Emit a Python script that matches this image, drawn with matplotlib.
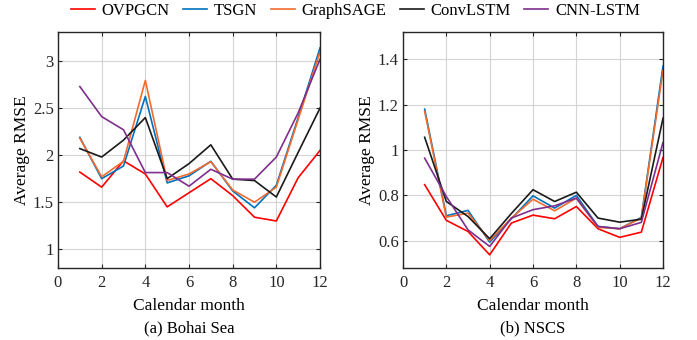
import numpy as np
import matplotlib.pyplot as plt

plt.rcParams['font.family'] = ['Liberation Serif', 'DejaVu Serif']

months = np.arange(1, 13)
names = ['OVPGCN', 'TSGN', 'GraphSAGE', 'ConvLSTM', 'CNN-LSTM']
colors = ['#FF0000', '#0072BD', '#F26B2E', '#1A1A1A', '#7E2F8E']

# (a) Bohai Sea
bohai_ovpgcn = [1.82, 1.66, 1.94, 1.80, 1.45, 1.60, 1.75, 1.57, 1.34, 1.30, 1.76, 2.05]
bohai_tsgn = [2.19, 1.75, 1.885, 2.625, 1.705, 1.78, 1.935, 1.62, 1.44, 1.68, 2.40, 3.14]
bohai_sage = [2.18, 1.77, 1.935, 2.795, 1.73, 1.80, 1.93, 1.63, 1.50, 1.66, 2.38, 3.10]
bohai_convlstm = [2.07, 1.98, 2.16, 2.40, 1.75, 1.91, 2.11, 1.745, 1.73, 1.555, 2.03, 2.50]
bohai_cnnlstm = [2.73, 2.41, 2.27, 1.815, 1.815, 1.67, 1.85, 1.745, 1.745, 1.98, 2.45, 3.02]

# (b) NSCS
nscs_ovpgcn = [0.847, 0.69, 0.641, 0.538, 0.678, 0.713, 0.697, 0.751, 0.653, 0.615, 0.638, 0.967]
nscs_tsgn = [1.18, 0.71, 0.734, 0.594, 0.697, 0.798, 0.744, 0.80, 0.663, 0.653, 0.703, 1.37]
nscs_sage = [1.17, 0.704, 0.722, 0.601, 0.70, 0.783, 0.732, 0.788, 0.659, 0.653, 0.70, 1.35]
nscs_convlstm = [1.056, 0.773, 0.707, 0.609, 0.72, 0.825, 0.773, 0.814, 0.70, 0.682, 0.695, 1.14]
nscs_cnnlstm = [0.964, 0.795, 0.648, 0.575, 0.70, 0.737, 0.754, 0.788, 0.663, 0.653, 0.681, 1.033]

bohai = [bohai_ovpgcn, bohai_tsgn, bohai_sage, bohai_convlstm, bohai_cnnlstm]
nscs = [nscs_ovpgcn, nscs_tsgn, nscs_sage, nscs_convlstm, nscs_cnnlstm]

W, H = 697, 340
fig = plt.figure(figsize=(W / 100, H / 100), dpi=100)
ax1 = fig.add_axes([58 / W, 72 / H, 262 / W, 236 / H])
ax2 = fig.add_axes([403 / W, 72 / H, 260 / W, 236 / H])


def style(ax, ylim, yticks, ylabels, subtitle):
    ax.set_xlim(0, 12)
    ax.set_ylim(*ylim)
    ax.set_xticks(range(0, 13, 2))
    ax.set_yticks(yticks)
    ax.set_yticklabels(ylabels)
    ax.grid(True, color='#D4D4D4', linewidth=0.8)
    ax.set_axisbelow(True)
    ax.tick_params(direction='in', top=True, right=True, labelsize=12,
                   length=3, width=0.8, colors='#262626')
    ax.tick_params(axis='y', pad=3)
    ax.tick_params(axis='x', pad=5)
    for s in ax.spines.values():
        s.set_linewidth(1.0)
        s.set_color('#262626')
    ax.set_xlabel('Calendar month', fontsize=12.5, labelpad=5)
    ax.set_ylabel('Average RMSE', fontsize=12.5, labelpad=2)
    ax.text(0.5, -0.258, subtitle, transform=ax.transAxes, ha='center',
            va='center', fontsize=12)


for vals, name, c in zip(bohai, names, colors):
    ax1.plot(months, vals, color=c, linewidth=1.2, label=name)
for vals, name, c in zip(nscs, names, colors):
    ax2.plot(months, vals, color=c, linewidth=1.2)

style(ax1, (0.8, 3.31), [1, 1.5, 2, 2.5, 3], ['1', '1.5', '2', '2.5', '3'], '(a) Bohai Sea')
style(ax2, (0.48, 1.52), [0.6, 0.8, 1.0, 1.2, 1.4], ['0.6', '0.8', '1', '1.2', '1.4'], '(b) NSCS')

fig.legend(loc='center', bbox_to_anchor=(0.51, 1 - 11 / H), ncol=5, frameon=False,
           fontsize=12, handlelength=1.45, handletextpad=0.4, columnspacing=0.8,
           borderpad=0, borderaxespad=0)

fig.savefig('out.png', dpi=100)
